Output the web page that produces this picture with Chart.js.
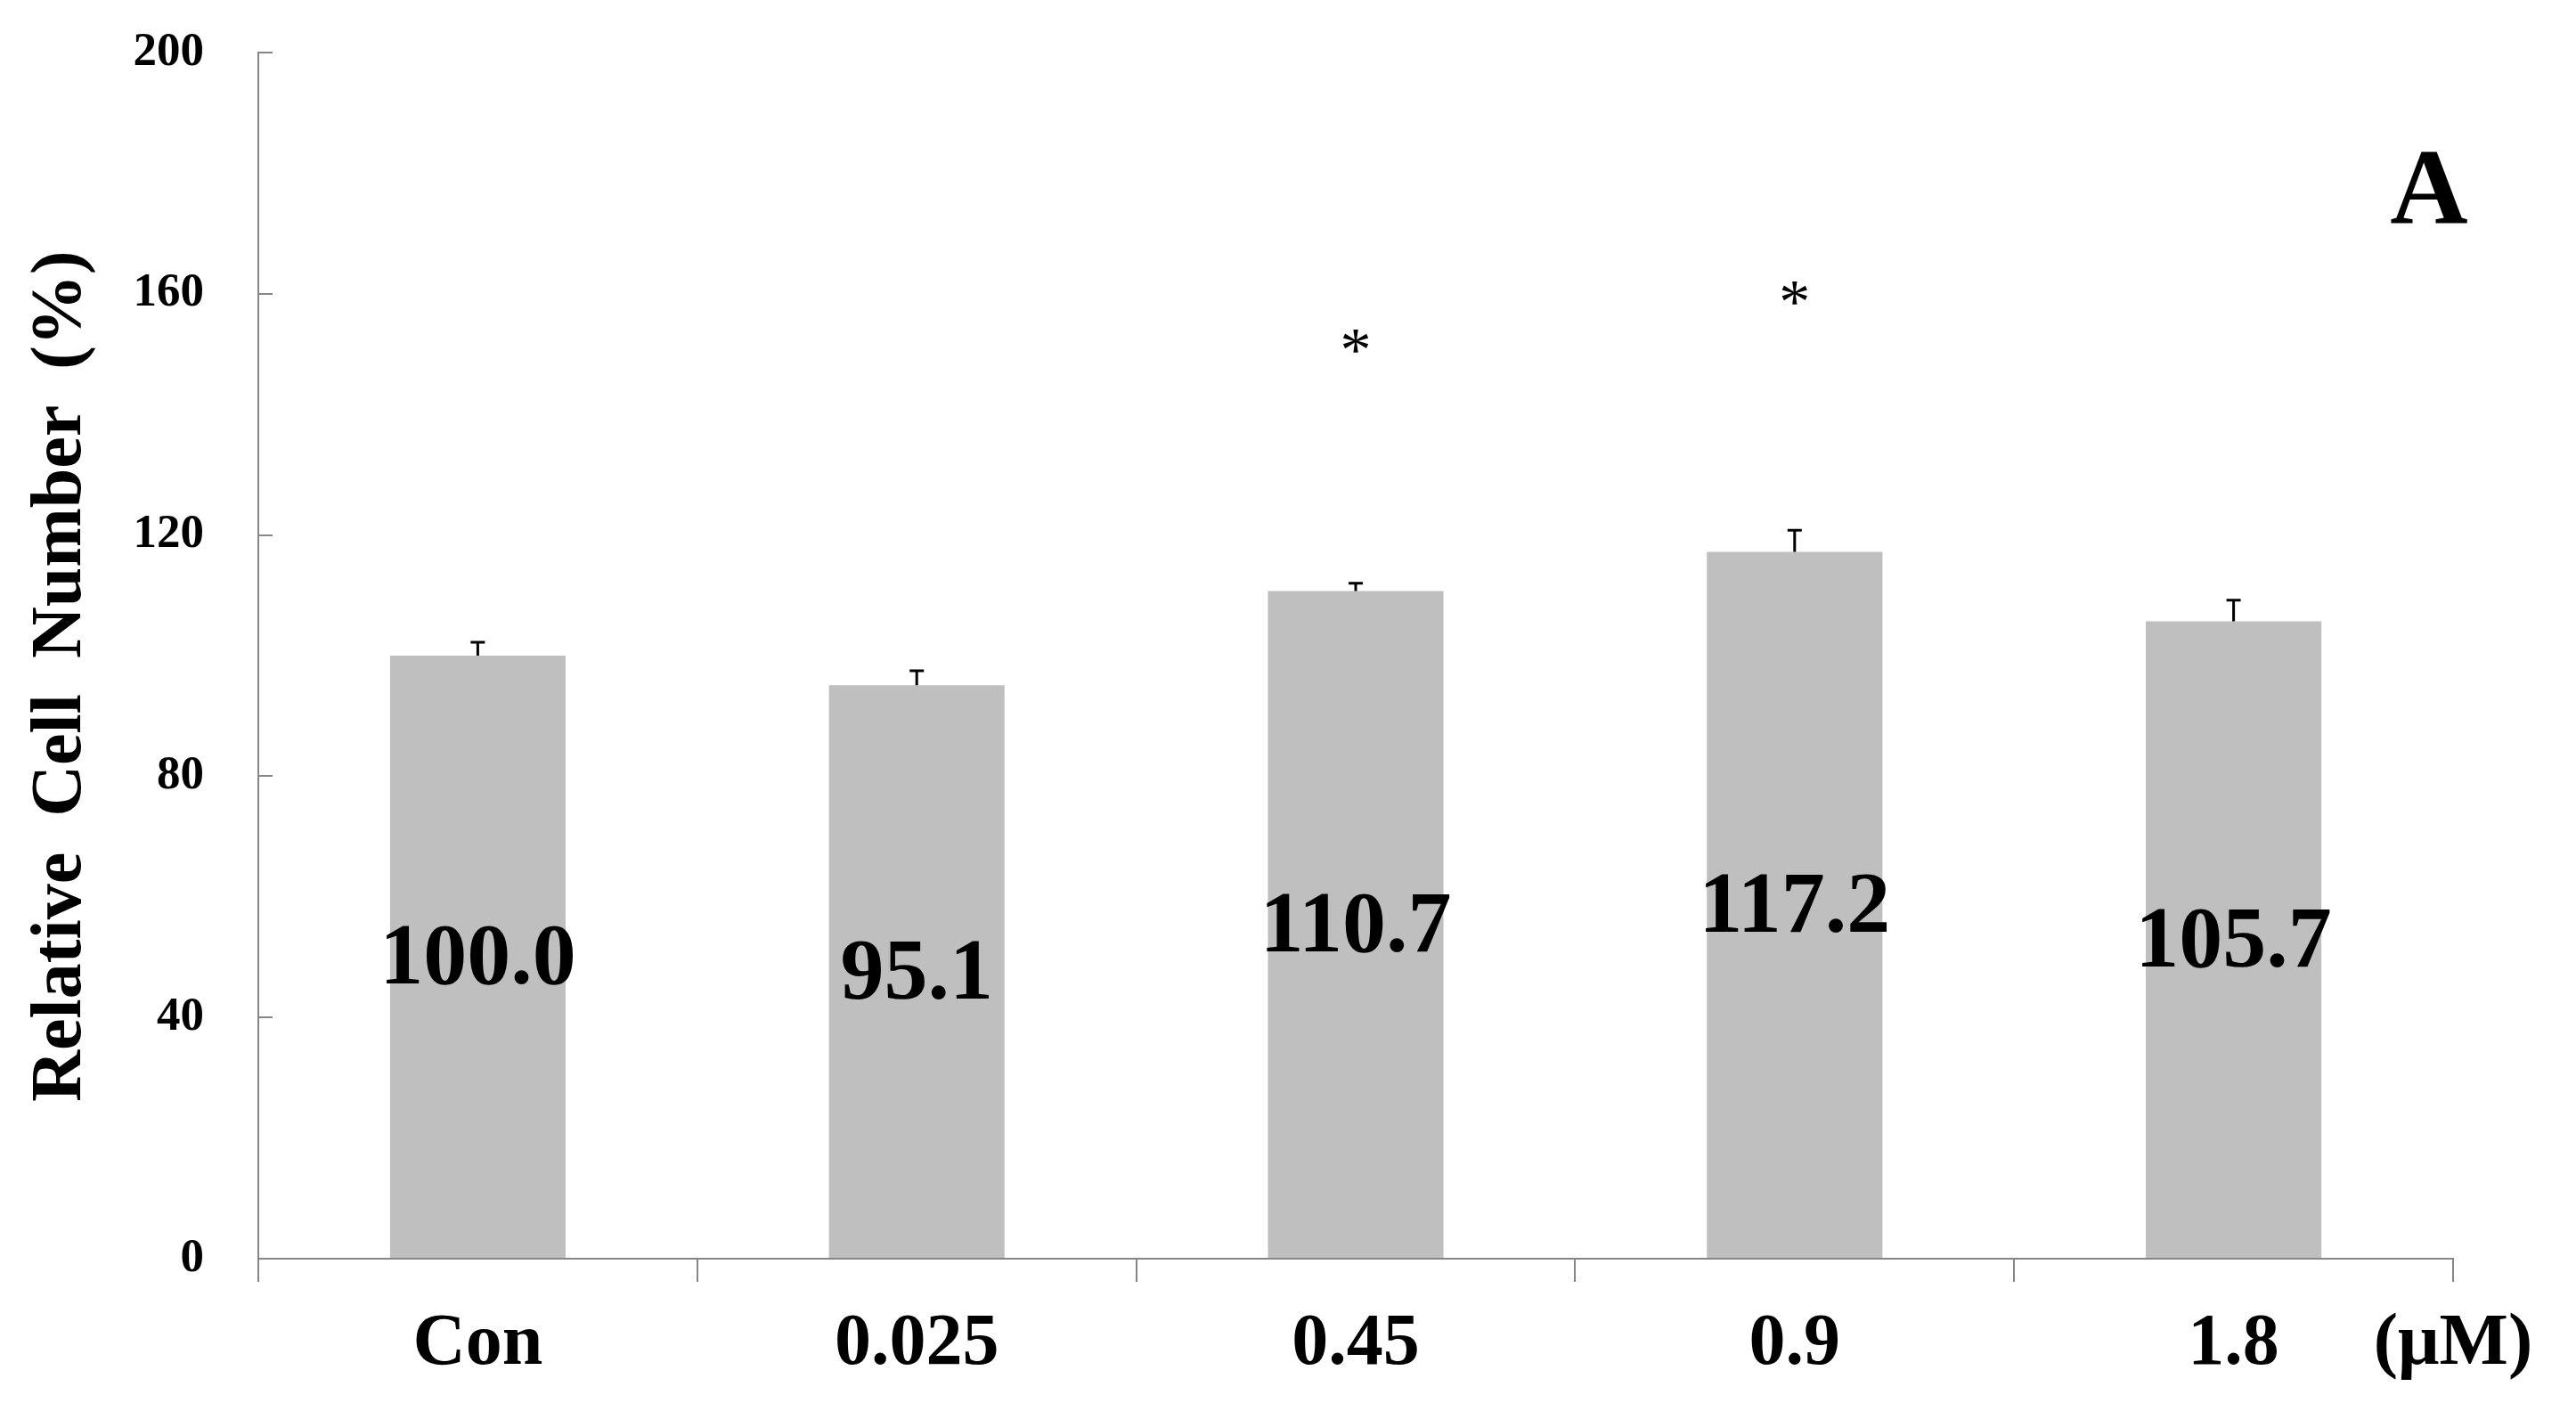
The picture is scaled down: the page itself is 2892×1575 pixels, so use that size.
<!DOCTYPE html>
<html>
<head>
<meta charset="utf-8">
<script src="https://cdn.jsdelivr.net/npm/chart.js@4"></script>
<style>
  body { margin: 0; background: #fff; }
  .wrap { width: 2892px; height: 1575px; position: relative; }
</style>
</head>
<body>
<div class="wrap"><canvas id="cellChart"></canvas></div>
<script>
// values
const doses = ['Con', '0.025', '0.45', '0.9', '1.8'];
const cellNumber = [100.0, 95.1, 110.7, 117.2, 105.7];
const errorUp = [2.2, 2.4, 1.3, 3.6, 3.5];
const starLevel = [null, null, 152, 160, null];
const yTicks = [0, 40, 80, 120, 160, 200];
const yTitle = 'Relative  Cell  Number  (%)';

const serif = "'Liberation Serif', 'Times New Roman', serif";
const axisGrey = '#868686';

const annotate = {
    id: 'annotate',
    afterDatasetsDraw(chart) {
        const ctx = chart.ctx;
        const area = chart.chartArea;
        const y = chart.scales.y;
        const bars = chart.getDatasetMeta(0).data;
        ctx.save();

        // error bars (upper only)
        ctx.strokeStyle = '#000';
        ctx.lineWidth = 3;
        bars.forEach((bar, i) => {
            let top = y.getPixelForValue(cellNumber[i] + errorUp[i]);
            ctx.beginPath();
            ctx.moveTo(bar.x, bar.y);
            ctx.lineTo(bar.x, top);
            ctx.moveTo(bar.x - 8, top);
            ctx.lineTo(bar.x + 8, top);
            ctx.stroke();
        });

        // values in the middle of each bar
        ctx.fillStyle = '#000';
        ctx.textAlign = 'center';
        ctx.textBaseline = 'middle';
        ctx.font = 'bold 98px ' + serif;
        bars.forEach((bar, i) => {
            ctx.fillText(cellNumber[i].toFixed(1), bar.x, (bar.y + bar.base) / 2 + 5);
        });

        // significance marks
        ctx.font = '70px ' + serif;
        ctx.textBaseline = 'alphabetic';
        bars.forEach((bar, i) => {
            if (starLevel[i] === null) return;
            ctx.fillText('*', bar.x, y.getPixelForValue(starLevel[i]) + 32);
        });

        // unit at the end of the x axis, panel letter
        ctx.textBaseline = 'middle';
        ctx.font = 'bold 82px ' + serif;
        ctx.fillText('(\u03bcM)', area.right, chart.scales.x.top + 97);
        ctx.font = 'bold 121px ' + serif;
        ctx.fillText('A', area.right - 27, area.top + 160);

        // y axis title, sits a little below the middle of the axis
        ctx.font = 'bold 80px ' + serif;
        ctx.translate(y.left + 69, (area.top + area.bottom) / 2 + 23);
        ctx.rotate(-Math.PI / 2);
        ctx.fillText(yTitle, 0, 0);
        ctx.restore();
    }
};

new Chart(document.getElementById('cellChart'), {
    type: 'bar',
    data: {
        labels: doses,
        datasets: [{
            data: cellNumber,
            backgroundColor: '#bfbfbf',
            borderWidth: 0,
            categoryPercentage: 1,
            barPercentage: 0.4
        }]
    },
    options: {
        responsive: true,
        maintainAspectRatio: false,
        animation: false,
        layout: { padding: { top: 59, right: 138, bottom: 0, left: 0 } },
        plugins: { legend: { display: false }, tooltip: { enabled: false } },
        scales: {
            x: {
                grid: { drawOnChartArea: false, tickLength: 26, color: axisGrey, lineWidth: 2 },
                border: { color: axisGrey, width: 2 },
                ticks: { color: '#000', padding: 22, font: { family: serif, size: 82, weight: 'bold' } },
                afterFit: (scale) => { scale.height = 162; }
            },
            y: {
                min: 0,
                max: 200,
                afterBuildTicks: (scale) => { scale.ticks = yTicks.map(v => ({ value: v })); },
                grid: { drawOnChartArea: false, tickLength: -16, color: axisGrey, lineWidth: 2 },
                border: { color: axisGrey, width: 2 },
                ticks: { color: '#000', padding: 77, font: { family: serif, size: 53, weight: 'bold' } },
                afterFit: (scale) => {
                    scale.width = 290;
                    scale.paddingTop = 30;
                    scale.paddingBottom = 0;
                }
            }
        }
    },
    plugins: [annotate]
});
</script>
</body>
</html>
